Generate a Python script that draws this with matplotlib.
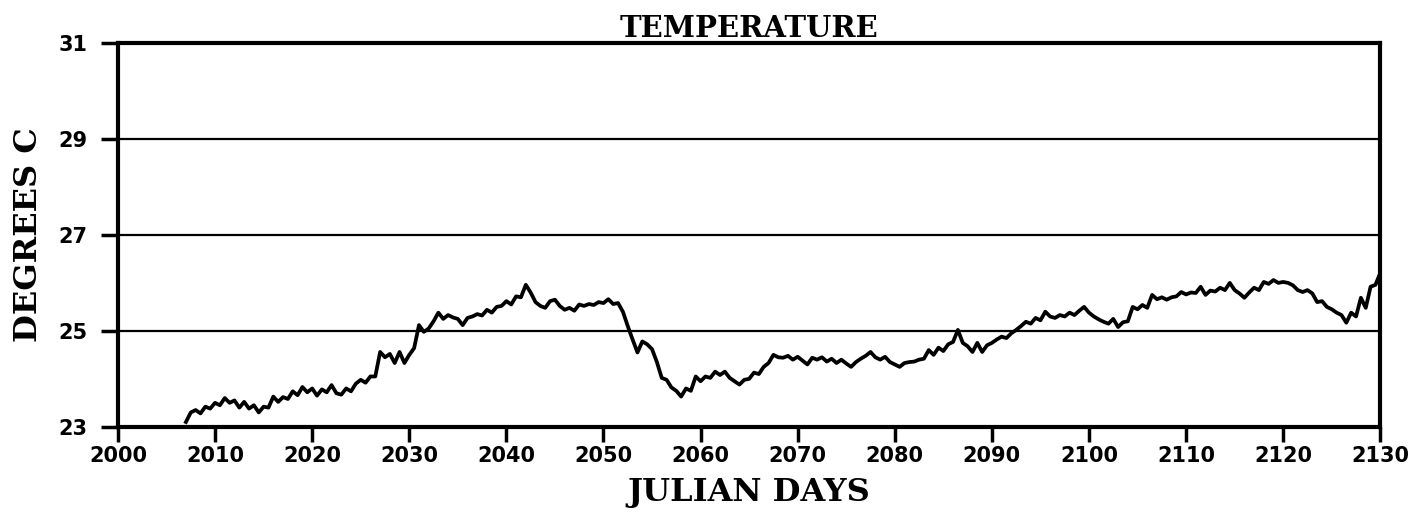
import numpy as np
import matplotlib
matplotlib.use("Agg")
import matplotlib.pyplot as plt

# DATA
# -----------------------------------------------
# half-day samples, 2007.0 .. 2130.0
start_day = 2007.0
step_day = 0.5

temp = [
    23.10, 23.30, 23.35, 23.28, 23.42, 23.38,
    # 2010
    23.50, 23.45, 23.60, 23.50, 23.55, 23.40, 23.52, 23.38, 23.45, 23.30,
    23.42, 23.40, 23.63, 23.52, 23.62, 23.58, 23.74, 23.66, 23.83, 23.72,
    # 2020
    23.80, 23.65, 23.78, 23.72, 23.87, 23.70, 23.67, 23.80, 23.74, 23.90,
    23.98, 23.92, 24.05, 24.05, 24.56, 24.45, 24.52, 24.33, 24.56, 24.33,
    # 2030
    24.50, 24.64, 25.12, 24.98, 25.05, 25.20, 25.38, 25.25, 25.33, 25.28,
    25.25, 25.12, 25.27, 25.30, 25.35, 25.32, 25.44, 25.38, 25.50, 25.52,
    # 2040
    25.62, 25.55, 25.72, 25.70, 25.96, 25.80, 25.60, 25.52, 25.48, 25.62,
    25.65, 25.52, 25.44, 25.48, 25.42, 25.55, 25.52, 25.56, 25.54, 25.60,
    # 2050
    25.58, 25.66, 25.56, 25.58, 25.40, 25.10, 24.82, 24.55, 24.78, 24.72,
    24.62, 24.35, 24.02, 23.98, 23.82, 23.75, 23.63, 23.80, 23.75, 24.05,
    # 2060
    23.95, 24.05, 24.02, 24.15, 24.08, 24.15, 24.02, 23.95, 23.88, 23.98,
    24.00, 24.13, 24.10, 24.25, 24.33, 24.50, 24.45, 24.44, 24.48, 24.40,
    # 2070
    24.46, 24.38, 24.30, 24.44, 24.40, 24.45, 24.36, 24.42, 24.33, 24.40,
    24.32, 24.25, 24.35, 24.42, 24.48, 24.56, 24.45, 24.40, 24.46, 24.35,
    # 2080
    24.30, 24.25, 24.33, 24.35, 24.36, 24.40, 24.42, 24.60, 24.50, 24.65,
    24.58, 24.72, 24.77, 25.02, 24.75, 24.68, 24.56, 24.75, 24.56, 24.70,
    # 2090
    24.75, 24.82, 24.88, 24.85, 24.95, 25.02, 25.10, 25.19, 25.15, 25.27,
    25.22, 25.40, 25.30, 25.27, 25.33, 25.30, 25.38, 25.33, 25.42, 25.50,
    # 2100
    25.38, 25.30, 25.24, 25.19, 25.15, 25.25, 25.08, 25.18, 25.20, 25.50,
    25.45, 25.54, 25.48, 25.75, 25.66, 25.70, 25.65, 25.70, 25.72, 25.81,
    # 2110
    25.76, 25.80, 25.79, 25.92, 25.75, 25.84, 25.82, 25.90, 25.85, 26.00,
    25.85, 25.78, 25.69, 25.80, 25.90, 25.85, 26.02, 25.98, 26.06, 26.00,
    # 2120
    26.02, 26.00, 25.95, 25.85, 25.81, 25.85, 25.78, 25.60, 25.62, 25.50,
    25.45, 25.38, 25.33, 25.17, 25.38, 25.30, 25.69, 25.48, 25.92, 25.96,
    # 2130
    26.21,
]

x_ticks = list(range(2000, 2131, 10))
y_ticks = [23, 25, 27, 29, 31]
grid_levels = [25, 27, 29]

days = start_day + step_day * np.arange(len(temp))

# PLOTTING
# -----------------------------------------------
fig = plt.figure(figsize=(14.28, 5.25), dpi=100)
ax = fig.add_axes([0.0826, 0.187, 0.884, 0.731])

for lev in grid_levels:
    ax.axhline(lev, color="black", lw=1.6, zorder=1)

ax.plot(days, temp, color="black", lw=2.7, zorder=2)

ax.set_xlim(2000, 2130)
ax.set_ylim(23, 31)
ax.set_xticks(x_ticks)
ax.set_yticks(y_ticks)

for s in ax.spines.values():
    s.set_linewidth(3)

ax.tick_params(axis="x", direction="out", length=11, width=2.5, pad=3)
ax.tick_params(axis="y", direction="out", length=12, width=2.5, pad=10)
for lab in ax.get_xticklabels() + ax.get_yticklabels():
    lab.set_fontsize(15)
    lab.set_fontweight("bold")
    lab.set_family("DejaVu Sans")

ax.set_title("TEMPERATURE", family="DejaVu Serif", fontweight="bold",
             fontsize=21, pad=3)
ax.set_xlabel("JULIAN DAYS", family="DejaVu Serif", fontweight="bold",
              fontsize=23, labelpad=8)
ax.set_ylabel("DEGREES C", family="DejaVu Serif", fontweight="bold",
              fontsize=23, labelpad=10)

fig.savefig("out.png", dpi=100)
